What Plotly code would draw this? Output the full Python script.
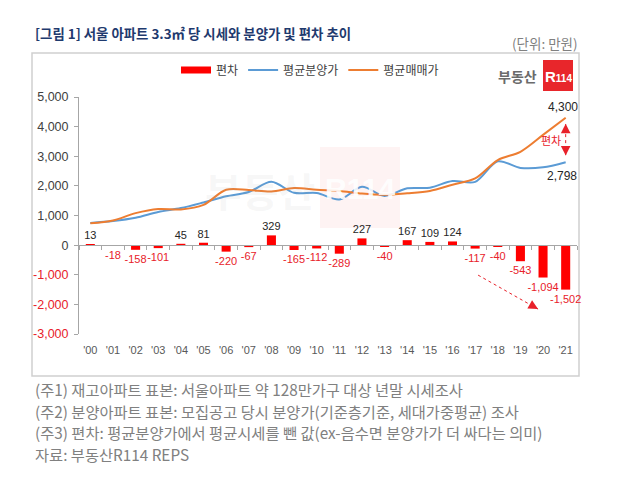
import plotly.graph_objects as go

# ---------------- data ----------------
x_labels = ["'00", "'01", "'02", "'03", "'04", "'05", "'06", "'07", "'08", "'09", "'10",
            "'11", "'12", "'13", "'14", "'15", "'16", "'17", "'18", "'19", "'20", "'21"]
diff = [13, -18, -158, -101, 45, 81, -220, -67, 329, -165, -112,
        -289, 227, -40, 167, 109, 124, -117, -40, -543, -1094, -1502]
presale = [748, 812, 922, 1119, 1250, 1441, 1650, 1793, 2140, 1765, 1758,
           1541, 1967, 1660, 1917, 1939, 2164, 2133, 2830, 2607, 2626, 2798]
market = [735, 830, 1080, 1220, 1205, 1360, 1870, 1860, 1811, 1930, 1870,
          1830, 1740, 1700, 1750, 1830, 2040, 2250, 2870, 3150, 3720, 4300]
y_ticks = [-3000, -2000, -1000, 0, 1000, 2000, 3000, 4000, 5000]

# ---------------- styling ----------------
W, H = 639, 477
L, R, T, B = 79, 62, 97, 143
PW, PH = W - L - R, H - T - B
NUM_FONT = "Liberation Sans, Arial, Noto Sans CJK KR, sans-serif"
KR_FONT = "Noto Sans CJK KR, Liberation Sans, sans-serif"
RED_BAR = "#FF0000"
RED_TXT = "#E8212A"
BLUE = "#5B9BD5"
ORANGE = "#ED7D31"
DARK = "#262626"
AXIS_GREY = "#A6A6A6"


def px(X):
    return (X - L) / PW


def py(Y):
    return (H - B - Y) / PH


fig = go.Figure()

fig.add_trace(go.Bar(
    x=x_labels, y=diff, name="편차", xaxis="x", yaxis="y",
    marker=dict(color=RED_BAR, line=dict(width=0)),
    text=[f"{v:,}" for v in diff], textposition="outside",
    textfont=dict(family=NUM_FONT, size=11,
                  color=[DARK if v >= 0 else RED_TXT for v in diff]),
    constraintext="none", cliponaxis=False, showlegend=False,
))
# legend key for the bars (wide red block like the original)
fig.add_trace(go.Scatter(
    x=[None], y=[None], mode="lines", name="편차", xaxis="x2", yaxis="y",
    line=dict(color=RED_BAR, width=7),
))
fig.add_trace(go.Scatter(
    x=x_labels, y=presale, name="평균분양가", mode="lines", xaxis="x2", yaxis="y",
    line=dict(color=BLUE, width=2, shape="spline", smoothing=0.9),
))
fig.add_trace(go.Scatter(
    x=x_labels, y=market, name="평균매매가", mode="lines", xaxis="x2", yaxis="y",
    line=dict(color=ORANGE, width=2, shape="spline", smoothing=0.9),
))

y_text = []
for v in y_ticks:
    s = f"{v:,}"
    y_text.append(f"<span style='color:{RED_TXT}'>{s}</span>" if v < 0 else s)

zero_pos = (0 - y_ticks[0]) / (y_ticks[-1] - y_ticks[0])

shapes = [
    # outer chart frame
    dict(type="rect", xref="paper", yref="paper", x0=px(32), x1=px(579), y0=py(376), y1=py(53),
         line=dict(color="#D0D0D0", width=1.5), fillcolor="rgba(0,0,0,0)", layer="below"),
    # watermark block
    dict(type="rect", xref="paper", yref="paper", x0=px(320), x1=px(400), y0=py(228), y1=py(147),
         line=dict(width=0), fillcolor="rgba(240,80,80,0.07)", layer="below"),
    # logo block
    dict(type="rect", xref="paper", yref="paper", x0=px(543), x1=px(573), y0=py(91), y1=py(60),
         line=dict(width=0), fillcolor="#E8262B"),
    # vertical dotted gap marker
    dict(type="line", xref="x2", yref="y", x0=21, x1=21,
         y0=presale[-1] + 240, y1=market[-1] - 215,
         line=dict(color=RED_TXT, width=1, dash="dot")),
    # diagonal dotted trend arrow
    dict(type="line", xref="x2", yref="y", x0=17.13, x1=19.78, y0=-1012, y1=-2160,
         line=dict(color=RED_TXT, width=1, dash="dot")),
]

annotations = [
    dict(xref="paper", yref="paper", x=px(33), y=py(33), xanchor="left", yanchor="middle",
         text="<b>[그림 1] 서울 아파트 3.3㎡ 당 시세와 분양가 및 편차 추이</b>", showarrow=False,
         font=dict(family=KR_FONT, size=13.4, color="#1F3A6E")),
    dict(xref="paper", yref="paper", x=px(580), y=py(43), xanchor="right", yanchor="middle",
         text="(단위: 만원)", showarrow=False,
         font=dict(family=KR_FONT, size=13.5, color="#808080")),
    dict(xref="paper", yref="paper", x=px(539), y=py(76), xanchor="right", yanchor="middle",
         text="<b>부동산</b>", showarrow=False,
         font=dict(family=KR_FONT, size=14, color="#6B6B6B")),
    dict(xref="paper", yref="paper", x=px(558), y=py(76), xanchor="center", yanchor="middle",
         text="<b>R<span style='font-size:10px'>114</span></b>", showarrow=False,
         font=dict(family=NUM_FONT, size=15, color="white")),
    dict(xref="paper", yref="paper", x=px(260), y=py(190), xanchor="center", yanchor="middle",
         text="<b>부동산</b>", showarrow=False,
         font=dict(family=KR_FONT, size=40, color="rgba(170,170,170,0.10)")),
    dict(xref="paper", yref="paper", x=px(360), y=py(188), xanchor="center", yanchor="middle",
         text="<b>R114</b>", showarrow=False,
         font=dict(family=NUM_FONT, size=30, color="rgba(255,255,255,0.9)")),
    dict(xref="x2", yref="y", x=21, y=market[-1], yshift=11, xshift=-3, text=f"{market[-1]:,}",
         showarrow=False, font=dict(family=NUM_FONT, size=12, color=DARK)),
    dict(xref="x2", yref="y", x=21, y=presale[-1], yshift=-14, xshift=-4, text=f"{presale[-1]:,}",
         showarrow=False, font=dict(family=NUM_FONT, size=12, color=DARK)),
    dict(xref="x2", yref="y", x=21, y=(market[-1] + presale[-1]) / 2, xshift=-3,
         xanchor="right", text="편차",
         showarrow=False, font=dict(family=KR_FONT, size=11, color=RED_TXT)),
    # arrow heads
    dict(xref="x2", yref="y", x=21, y=market[-1] - 200, ax=0, ay=6, text="", showarrow=True,
         arrowhead=2, arrowsize=1.6, arrowwidth=1.2, arrowcolor=RED_TXT),
    dict(xref="x2", yref="y", x=21, y=presale[-1] + 225, ax=0, ay=-6, text="", showarrow=True,
         arrowhead=2, arrowsize=1.6, arrowwidth=1.2, arrowcolor=RED_TXT),
    dict(xref="x2", yref="y", x=19.78, y=-2160, ax=-6, ay=-3.4, text="", showarrow=True,
         arrowhead=2, arrowsize=1.6, arrowwidth=1.2, arrowcolor=RED_TXT),
]

notes = [
    "(주1) 재고아파트 표본: 서울아파트 약 128만가구 대상 년말 시세조사",
    "(주2) 분양아파트 표본: 모집공고 당시 분양가(기준층기준, 세대가중평균) 조사",
    "(주3) 편차: 평균분양가에서 평균시세를 뺀 값(ex-음수면 분양가가 더 싸다는 의미)",
    "자료: 부동산R114 REPS",
]
for i, t in enumerate(notes):
    annotations.append(dict(xref="paper", yref="paper", x=px(33), y=py(389 + 21.7 * i),
                            xanchor="left", yanchor="middle", text=t, showarrow=False,
                            font=dict(family=KR_FONT, size=15.3, color="#808080")))

fig.update_layout(
    width=W, height=H,
    margin=dict(l=L, r=R, t=T, b=B, pad=0),
    paper_bgcolor="white", plot_bgcolor="white",
    font=dict(family=NUM_FONT, color=DARK),
    bargap=0.6,
    showlegend=True,
    legend=dict(orientation="h", x=px(176), y=py(70), xanchor="left", yanchor="middle",
                font=dict(family=KR_FONT, size=12, color="#404040"),
                bgcolor="rgba(0,0,0,0)", traceorder="normal"),
    xaxis=dict(type="category", categoryorder="array", categoryarray=x_labels,
               range=[-0.5, len(x_labels) - 0.5], anchor="free", position=zero_pos,
               showline=True, linecolor=AXIS_GREY, linewidth=1,
               ticks="outside", tickson="boundaries", ticklen=4, tickcolor=AXIS_GREY,
               showticklabels=False, showgrid=False, zeroline=False),
    xaxis2=dict(type="category", categoryorder="array", categoryarray=x_labels,
                range=[-0.5, len(x_labels) - 0.5], overlaying="x", anchor="y", side="bottom",
                showline=False, ticks="", showgrid=False, zeroline=False,
                tickfont=dict(family=NUM_FONT, size=11, color="#595959"),
                ticklabelstandoff=8),
    yaxis=dict(range=[y_ticks[0], y_ticks[-1]], tickmode="array", tickvals=y_ticks, ticktext=y_text,
               showline=True, linecolor=AXIS_GREY, linewidth=1, ticks="outside", ticklen=4,
               tickcolor=AXIS_GREY, showgrid=False, zeroline=False,
               tickfont=dict(family=NUM_FONT, size=12.5, color="#404040"), ticklabelstandoff=3),
    shapes=shapes,
    annotations=annotations,
)

fig.write_html("out.html", config={"displayModeBar": False},
               post_script="document.body.style.margin='0';document.body.style.overflow='hidden';")
